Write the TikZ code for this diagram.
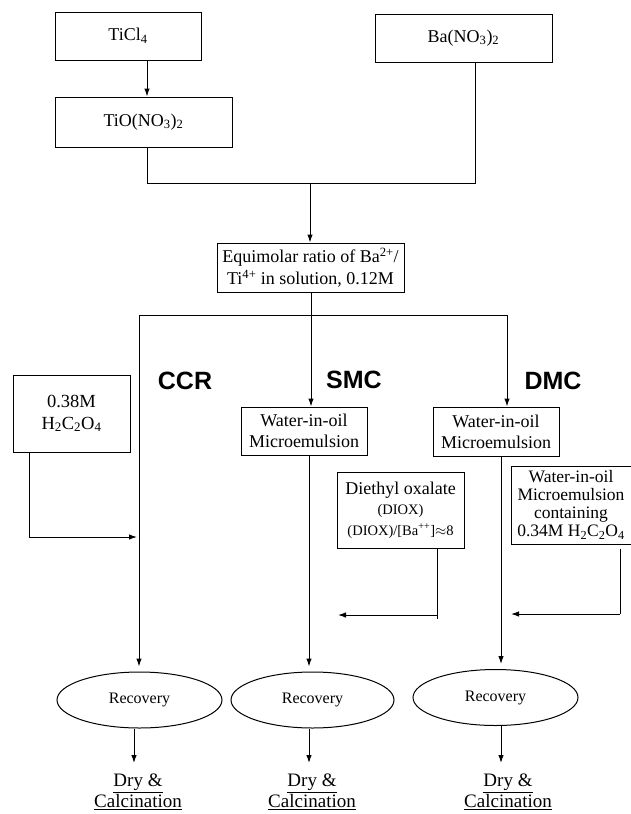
\documentclass[tikz,border=0pt]{standalone}
\usepackage{fontspec}
\setmainfont{Liberation Serif}
\newfontfamily\labsf{Liberation Sans}
\usetikzlibrary{arrows.meta,shapes.geometric}
\begin{document}
\begin{tikzpicture}[x=1pt,y=-1pt,
  box/.style={draw, line width=1pt, inner sep=0pt, align=center},
  conn/.style={line width=1pt},
  arr/.style={conn, -{Latex[length=8pt,width=5.5pt]}},
  oval/.style={draw, line width=1pt, ellipse, inner sep=0pt, minimum width=165pt, minimum height=56pt, font=\fontsize{16}{18}\selectfont},
  lab/.style={font=\labsf\bfseries\fontsize{25}{28}\selectfont},
  fin/.style={align=center, inner sep=0pt, font=\fontsize{19}{21}\selectfont},
  font=\fontsize{18}{21}\selectfont]
\useasboundingbox (0,0) rectangle (631,814);

% top boxes
\node[box, minimum width=146pt, minimum height=48pt] (ticl) at (128,36) {TiCl\textsubscript{4}};
\node[box, minimum width=177pt, minimum height=50pt] (tio) at (143.5,122) {TiO(NO\textsubscript{3})\textsubscript{2}};
\node[box, minimum width=177pt, minimum height=48pt] (ba) at (463.5,38) {Ba(NO\textsubscript{3})\textsubscript{2}};
\node[box, minimum width=187pt, minimum height=49pt, font=\fontsize{18}{22}\selectfont] (eq) at (310.5,267.5)
  {Equimolar ratio of Ba\textsuperscript{2+}/\\Ti\textsuperscript{4+} in solution, 0.12M};

\coordinate (tx) at (147,0);
\coordinate (bx) at (475,0);
\coordinate (jn) at (310,183);
\coordinate (cx) at (311,0);
\draw[arr] (ticl.south -| tx) -- (tio.north -| tx);
\draw[conn] (tio.south -| tx) |- (jn);
\draw[conn] (ba.south -| bx) |- (jn);
\draw[arr] (jn) -- (eq.north -| jn);

% branches
\coordinate (bl) at (139,315);
\coordinate (br) at (507,315);
\draw[conn] (bl) -- (br);

\node[lab] (ccr) at (185,381) {CCR};
\node[lab] (smc) at (354,380) {SMC};
\node[lab] (dmc) at (553,381) {DMC};

\node[box, minimum width=117pt, minimum height=77pt, font=\fontsize{18.5}{22}\selectfont] (ox) at (71.5,413.5)
  {0.38M\\H\textsubscript{2}C\textsubscript{2}O\textsubscript{4}};
\node[box, minimum width=126pt, minimum height=48pt] (smcw) at (304,431) {Water-in-oil\\Microemulsion};
\node[box, minimum width=126pt, minimum height=49pt] (dmcw) at (496,431.5) {Water-in-oil\\Microemulsion};
\node[box, minimum width=127pt, minimum height=76pt] (diox) at (400.5,510)
  {{\fontsize{18}{19}\selectfont Diethyl oxalate}\\[-1pt]
   {\fontsize{14.5}{18}\selectfont (DIOX)}\\
   {\fontsize{14.5}{18}\selectfont (DIOX)/[Ba\textsuperscript{++}]$\approx$8}};
\node[box, minimum width=120pt, minimum height=78pt, font=\fontsize{17.5}{18}\selectfont] (wm) at (571,505)
  {Water-in-oil\\Microemulsion\\containing\\0.34M H\textsubscript{2}C\textsubscript{2}O\textsubscript{4}};

% recovery
\node[oval] (rec1) at (139.5,700) {Recovery};
\node[oval, minimum width=163pt] (rec2) at (312.5,700) {Recovery};
\node[oval] (rec3) at (495.5,697.5) {Recovery};

\node[fin] (dry1) at (138,792) {\underline{Dry \&}\\\underline{Calcination}};
\node[fin] (dry2) at (312,792) {\underline{Dry \&}\\\underline{Calcination}};
\node[fin] (dry3) at (508,792) {\underline{Dry \&}\\\underline{Calcination}};

% vertical flows
\coordinate (sx) at (309,0);
\coordinate (dx2) at (501,0);
\draw[arr] (eq.south -| cx) -- (smcw.north -| cx);
\draw[arr] (br) -- (dmcw.north -| br);
\draw[arr, shorten >=5pt] (bl) -- (rec1.north -| bl);
\draw[arr, shorten >=5pt] (smcw.south -| sx) -- (rec2.north -| sx);
\draw[arr, shorten >=5pt] (dmcw.south -| dx2) -- (rec3.north -| dx2);

% side feeds
\coordinate (ax) at (29,0);
\coordinate (a1) at (137,537);
\draw[arr] (ox.south -| ax) |- (a1);
\coordinate (dx) at (437,0);
\coordinate (a2) at (338,615);
\draw[conn] (diox.south -| dx) -- ++(0,70);
\draw[arr] (a2 -| dx) -- (a2);
\coordinate (rx) at (620,0);
\coordinate (a3) at (511,614);
\draw[conn, shorten <=4pt] (wm.south -| rx) -- (a3 -| rx);
\draw[arr] (a3 -| rx) -- (a3);

% to dry & calcination
\coordinate (d1) at (134,763);
\coordinate (d2) at (309,763);
\coordinate (d3) at (501,763);
\draw[arr] (rec1.south -| d1) -- (d1);
\draw[arr] (rec2.south -| d2) -- (d2);
\draw[arr] (rec3.south -| d3) -- (d3);
\end{tikzpicture}
\end{document}
